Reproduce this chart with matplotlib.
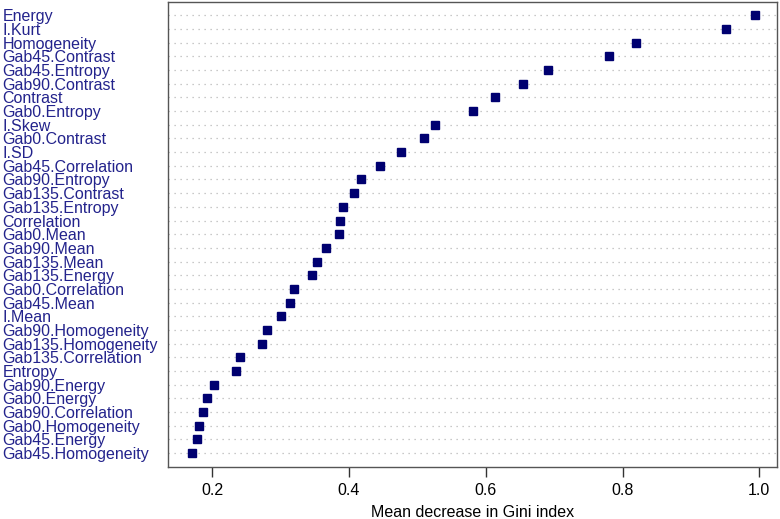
import numpy as np
import matplotlib
matplotlib.use("Agg")
import matplotlib.pyplot as plt

plt.rcParams['font.family'] = ['Liberation Sans', 'DejaVu Sans']

# feature importance, top to bottom as in the chart
features = ["Energy", "I.Kurt", "Homogeneity", "Gab45.Contrast", "Gab45.Entropy",
            "Gab90.Contrast", "Contrast", "Gab0.Entropy", "I.Skew", "Gab0.Contrast",
            "I.SD", "Gab45.Correlation", "Gab90.Entropy", "Gab135.Contrast",
            "Gab135.Entropy", "Correlation", "Gab0.Mean", "Gab90.Mean", "Gab135.Mean",
            "Gab135.Energy", "Gab0.Correlation", "Gab45.Mean", "I.Mean",
            "Gab90.Homogeneity", "Gab135.Homogeneity", "Gab135.Correlation", "Entropy",
            "Gab90.Energy", "Gab0.Energy", "Gab90.Correlation", "Gab0.Homogeneity",
            "Gab45.Energy", "Gab45.Homogeneity"]
gini = [0.994, 0.951, 0.819, 0.780, 0.691,
        0.655, 0.613, 0.582, 0.526, 0.510,
        0.476, 0.446, 0.418, 0.407,
        0.391, 0.387, 0.385, 0.367, 0.353,
        0.346, 0.319, 0.313, 0.301,
        0.280, 0.272, 0.240, 0.235,
        0.202, 0.192, 0.186, 0.180,
        0.177, 0.170]
xticks = [0.2, 0.4, 0.6, 0.8, 1.0]

navy = '#000070'
label_col = '#23238c'

fig = plt.figure(figsize=(7.8, 5.19), dpi=100)
ax = fig.add_axes([0.2158, 0.1008, 0.78, 0.8959])

n = len(features)
ypos = np.arange(n, 0, -1)

for y in ypos:
    ax.axhline(y, color='#b8b8b8', lw=0.9, linestyle=(0, (1, 3.8)), zorder=1)
ax.plot(gini, ypos, linestyle='none', marker='s', ms=5.2, color=navy, zorder=3)

ax.set_xlim(0.1357, 1.0255)
ax.set_ylim(0, n + 1)

ax.set_yticks(ypos)
ax.set_yticklabels(features, ha='left', color=label_col, fontsize=11.5)
ax.tick_params(axis='y', length=0, pad=119.5)

ax.set_xticks(xticks)
ax.set_xticklabels([f"{t:.1f}" for t in xticks], fontsize=11.5)
ax.tick_params(axis='x', length=7, width=1, color='#333333', pad=4.5)
ax.set_xlabel("Mean decrease in Gini index", fontsize=11.5, labelpad=5)

for s in ax.spines.values():
    s.set_color('#555555')
    s.set_linewidth(1)

fig.savefig("out.png", dpi=100)
